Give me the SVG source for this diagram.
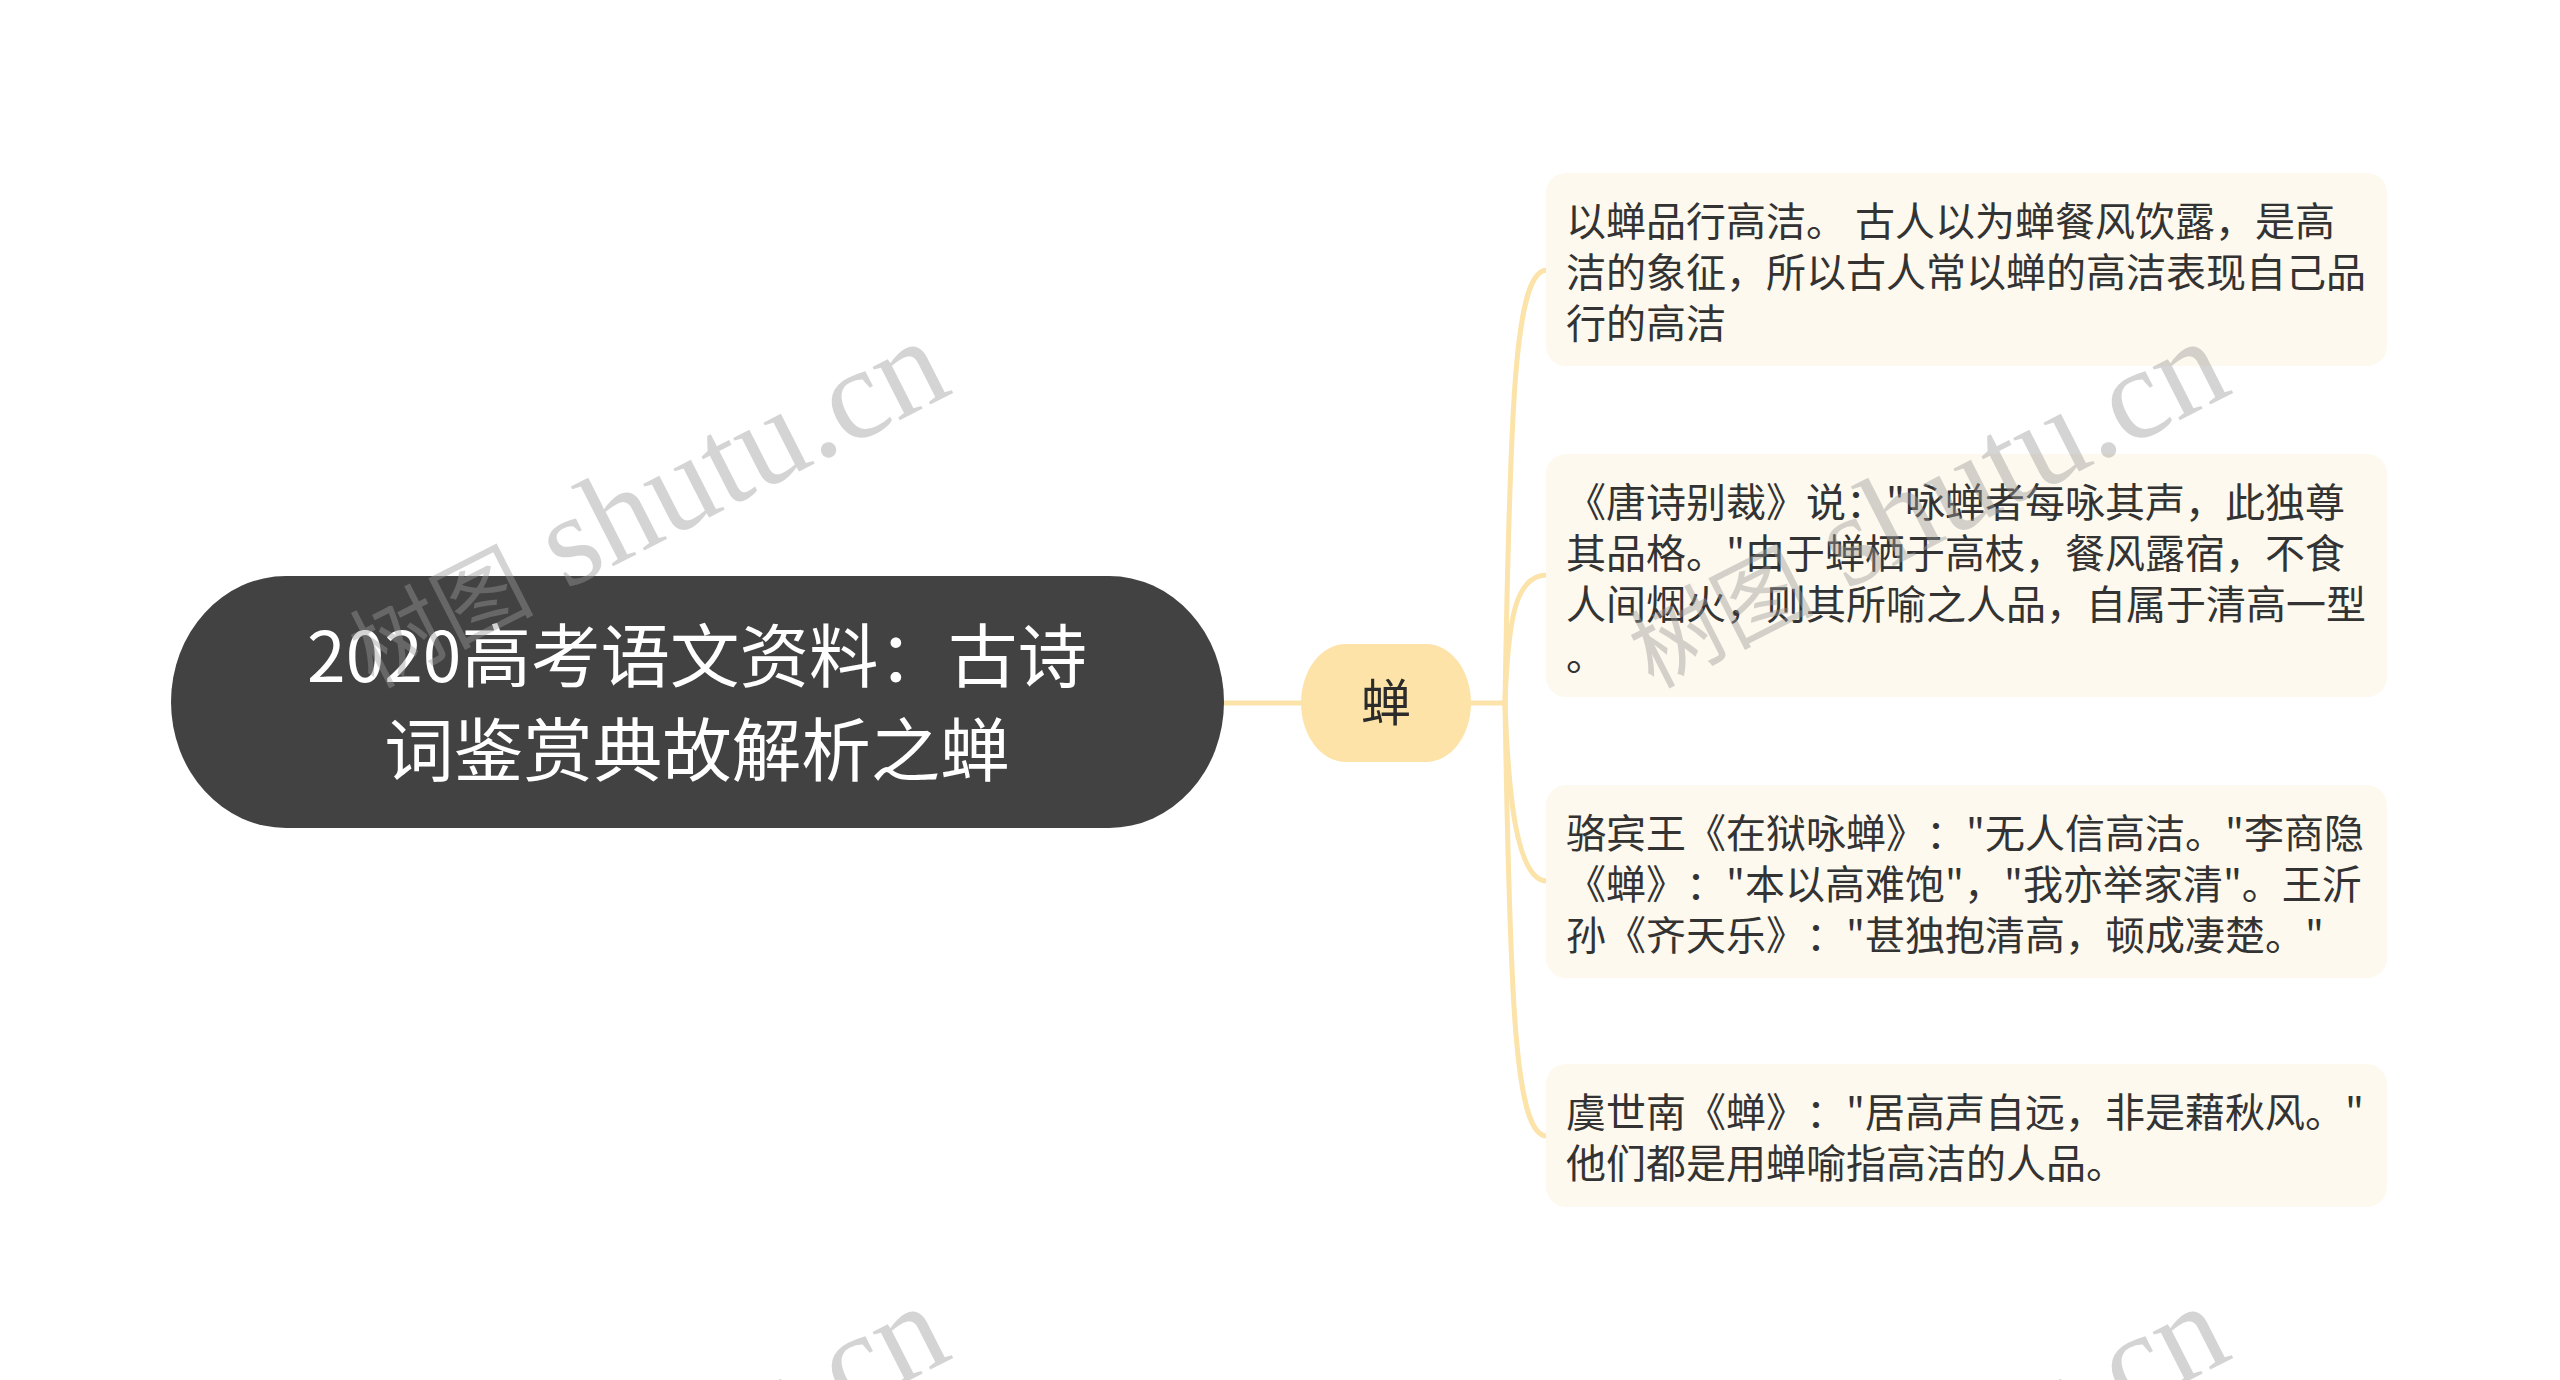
<svg xmlns="http://www.w3.org/2000/svg" width="2560" height="1380" viewBox="0 0 2560 1380">
<style>
text{text-spacing-trim:space-all}
.conn{fill:none;stroke:#FBE3A9;stroke-width:5;stroke-linecap:round}
.root{fill:#424242}
.rootT{fill:#ffffff;font-family:"Noto Sans CJK SC","Noto Sans",sans-serif;font-size:69.5px;text-anchor:middle}
.mid{fill:#FDE3A7}
.midT{fill:#2b2b2b;font-family:"Noto Sans CJK SC","Noto Sans",sans-serif;font-size:50px;text-anchor:middle}
.leaf{fill:#FDF9EE}
.leafT{fill:#333333;font-family:"Noto Sans CJK SC","Noto Sans",sans-serif;font-size:40px}
.wm{fill:#9a9a9a;opacity:0.42;text-anchor:end}
.wmC{font-family:"Noto Sans CJK SC",sans-serif;font-size:92px}
.wmL{font-family:"Liberation Serif",serif;font-size:130px}
</style>
<rect width="2560" height="1380" fill="#ffffff"/>
<g id="connectors">
<path class="conn" d="M1224 703 L1301 703"/>
<path class="conn" d="M1471 703 L1505 703"/>
<path class="conn" d="M1505 703 C1510 400 1515 270 1547 270"/>
<path class="conn" d="M1505 703 C1508 620 1515 575 1547 575"/>
<path class="conn" d="M1505 703 C1508 786 1515 881 1547 881"/>
<path class="conn" d="M1505 703 C1510 1006 1515 1136 1547 1136"/>
</g>
<g id="root">
<rect class="root" x="171" y="576" width="1053" height="252" rx="115" ry="126"/>
<text class="rootT" x="697" y="682">2020高考语文资料：古诗</text>
<text class="rootT" x="697" y="776">词鉴赏典故解析之蝉</text>
</g>
<g id="center">
<rect class="mid" x="1301" y="644" width="170" height="118" rx="45" ry="59"/>
<text class="midT" x="1386" y="721">蝉</text>
</g>
<g id="leaf1">
<rect class="leaf" x="1546" y="173" width="841" height="193" rx="20"/>
<text class="leafT" x="1566" y="236">以蝉品行高洁。 古人以为蝉餐风饮露，是高</text>
<text class="leafT" x="1566" y="287">洁的象征，所以古人常以蝉的高洁表现自己品</text>
<text class="leafT" x="1566" y="338">行的高洁</text>
</g>
<g id="leaf2">
<rect class="leaf" x="1546" y="454" width="841" height="243" rx="20"/>
<text class="leafT" x="1566" y="517">《唐诗别裁》说："咏蝉者每咏其声，此独尊</text>
<text class="leafT" x="1566" y="568">其品格。"由于蝉栖于高枝，餐风露宿，不食</text>
<text class="leafT" x="1566" y="619">人间烟火，则其所喻之人品，自属于清高一型</text>
<text class="leafT" x="1566" y="670">。</text>
</g>
<g id="leaf3">
<rect class="leaf" x="1546" y="785" width="841" height="193" rx="20"/>
<text class="leafT" x="1566" y="848">骆宾王《在狱咏蝉》："无人信高洁。"李商隐</text>
<text class="leafT" x="1566" y="899">《蝉》："本以高难饱"，"我亦举家清"。王沂</text>
<text class="leafT" x="1566" y="950">孙《齐天乐》："甚独抱清高，顿成凄楚。"</text>
</g>
<g id="leaf4">
<rect class="leaf" x="1546" y="1064" width="841" height="143" rx="20"/>
<text class="leafT" x="1566" y="1127">虞世南《蝉》："居高声自远，非是藉秋风。"</text>
<text class="leafT" x="1566" y="1178">他们都是用蝉喻指高洁的人品。</text>
</g>
<g id="watermarks">
<text class="wm" transform="translate(955 392) rotate(-27)"><tspan class="wmC">树图</tspan><tspan class="wmL"> shutu.cn</tspan></text>
<text class="wm" transform="translate(2235 392) rotate(-27)"><tspan class="wmC">树图</tspan><tspan class="wmL"> shutu.cn</tspan></text>
<text class="wm" transform="translate(955 1357) rotate(-27)"><tspan class="wmC">树图</tspan><tspan class="wmL"> shutu.cn</tspan></text>
<text class="wm" transform="translate(2235 1357) rotate(-27)"><tspan class="wmC">树图</tspan><tspan class="wmL"> shutu.cn</tspan></text>
</g>
</svg>
